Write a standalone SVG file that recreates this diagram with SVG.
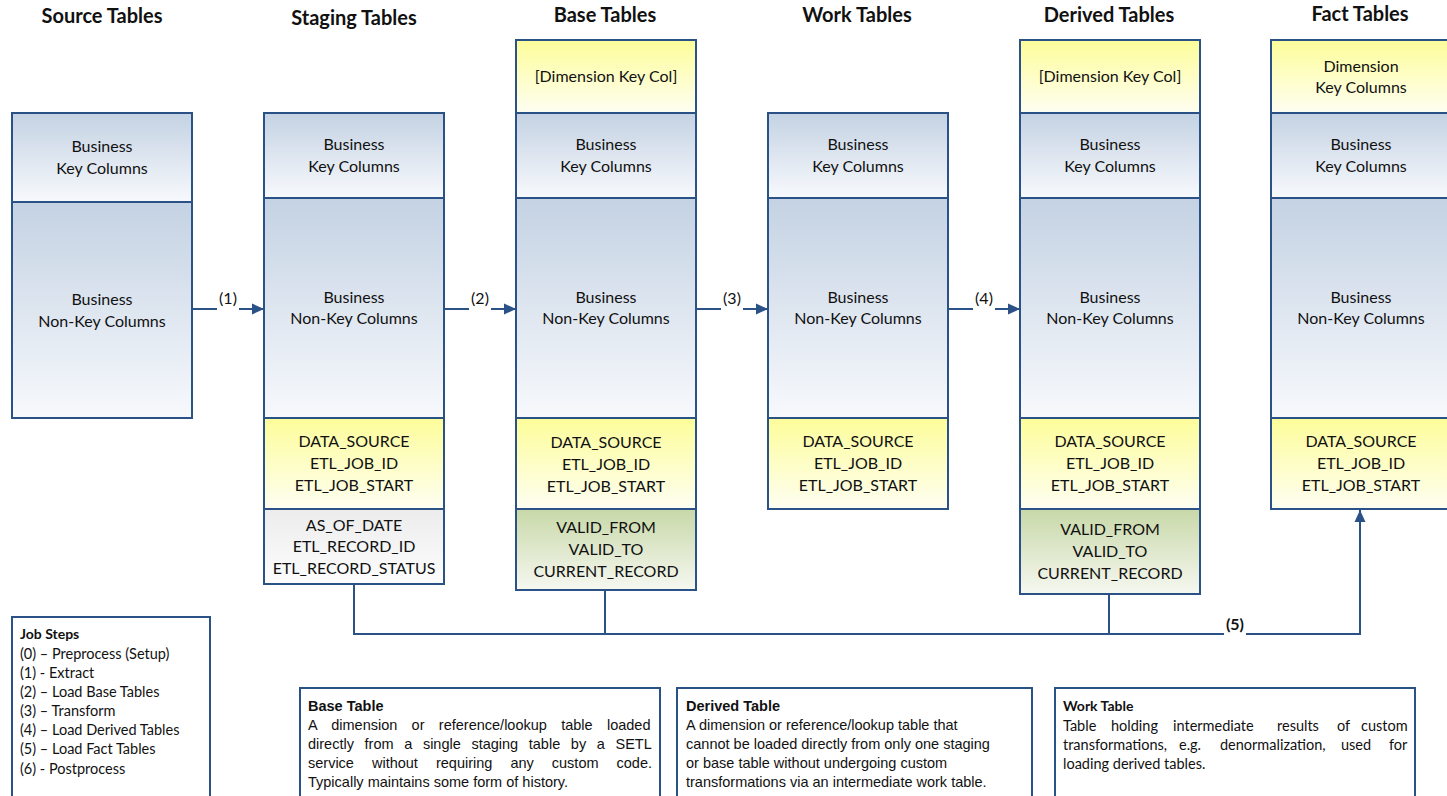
<svg xmlns="http://www.w3.org/2000/svg" width="1447" height="796" viewBox="0 0 1447 796">
<defs>
  <linearGradient id="gBlue" x1="0" y1="0" x2="0" y2="1">
    <stop offset="0" stop-color="#c4d2e3"/>
    <stop offset="1" stop-color="#f7f9fc"/>
  </linearGradient>
  <linearGradient id="gYellow" x1="0" y1="0" x2="0" y2="1">
    <stop offset="0" stop-color="#fdfd9a"/>
    <stop offset="1" stop-color="#fefef2"/>
  </linearGradient>
  <linearGradient id="gGray" x1="0" y1="0" x2="0" y2="1">
    <stop offset="0" stop-color="#ececec"/>
    <stop offset="1" stop-color="#fdfdfd"/>
  </linearGradient>
  <linearGradient id="gGreen" x1="0" y1="0" x2="0" y2="1">
    <stop offset="0" stop-color="#c8d8a8"/>
    <stop offset="1" stop-color="#f6f8f1"/>
  </linearGradient>
  <marker id="arrow" viewBox="0 0 12 12" refX="12" refY="6" markerWidth="12" markerHeight="12" orient="auto" markerUnits="userSpaceOnUse">
    <path d="M0,0.5 L12,6 L0,11.5 z" fill="#2a5287"/>
  </marker>
</defs>
<style>
  .cell { stroke: #2a5287; stroke-width: 2; }
  .blue { fill: url(#gBlue); }
  .yellow { fill: url(#gYellow); }
  .gray { fill: url(#gGray); }
  .green { fill: url(#gGreen); }
  .t { font-family: Lato, "Liberation Sans", sans-serif; font-size: 16px; fill: #111; text-anchor: middle; }
  .h { font-family: Lato, "Liberation Sans", sans-serif; font-size: 20px; font-weight: bold; fill: #111; text-anchor: middle; }
  .lbl { font-family: Lato, "Liberation Sans", sans-serif; font-size: 16px; fill: #111; text-anchor: middle; }
  .conn { stroke: #2a5287; stroke-width: 2; fill: none; }
  .box { fill: #fff; stroke: #2a5287; stroke-width: 2; }
  .note { font-family: "Liberation Sans", Arial, sans-serif; font-size: 14.5px; fill: #111; }
  .noteB { font-family: "Liberation Sans", Arial, sans-serif; font-size: 14.5px; font-weight: bold; fill: #111; }
  .jobs { font-family: Lato, "Liberation Sans", sans-serif; font-size: 14.5px; fill: #111; }
  .jobsB { font-family: Lato, "Liberation Sans", sans-serif; font-size: 14px; font-weight: bold; fill: #111; }
</style>

<!-- column headings -->
<g id="headings">
  <text class="h" x="102" y="23">Source Tables</text>
  <text class="h" x="354" y="25">Staging Tables</text>
  <text class="h" x="605" y="22">Base Tables</text>
  <text class="h" x="857" y="22">Work Tables</text>
  <text class="h" x="1109" y="22">Derived Tables</text>
  <text class="h" x="1360" y="21">Fact Tables</text>
</g>

<!-- source table -->
<g id="source">
  <rect class="cell blue" x="12" y="113" width="180" height="89"/>
  <rect class="cell blue" x="12" y="202" width="180" height="216"/>
  <text class="t" x="102" y="152">Business</text>
  <text class="t" x="102" y="174">Key Columns</text>
  <text class="t" x="102" y="305">Business</text>
  <text class="t" x="102" y="327">Non-Key Columns</text>
</g>

<!-- staging table -->
<g id="staging">
  <rect class="cell blue" x="264" y="113" width="180" height="85"/>
  <rect class="cell blue" x="264" y="198" width="180" height="220"/>
  <rect class="cell yellow" x="264" y="418" width="180" height="91"/>
  <rect class="cell gray" x="264" y="509" width="180" height="75"/>
  <text class="t" x="354" y="150">Business</text>
  <text class="t" x="354" y="172">Key Columns</text>
  <text class="t" x="354" y="303">Business</text>
  <text class="t" x="354" y="324">Non-Key Columns</text>
  <text class="t" x="354" y="447">DATA_SOURCE</text>
  <text class="t" x="354" y="469">ETL_JOB_ID</text>
  <text class="t" x="354" y="491">ETL_JOB_START</text>
  <text class="t" x="354" y="531">AS_OF_DATE</text>
  <text class="t" x="354" y="552">ETL_RECORD_ID</text>
  <text class="t" x="354" y="574">ETL_RECORD_STATUS</text>
</g>

<!-- base table -->
<g id="base">
  <rect class="cell yellow" x="516" y="40" width="180" height="73"/>
  <rect class="cell blue" x="516" y="113" width="180" height="85"/>
  <rect class="cell blue" x="516" y="198" width="180" height="220"/>
  <rect class="cell yellow" x="516" y="418" width="180" height="91"/>
  <rect class="cell green" x="516" y="509" width="180" height="81"/>
  <text class="t" x="606" y="82">[Dimension Key Col]</text>
  <text class="t" x="606" y="150">Business</text>
  <text class="t" x="606" y="172">Key Columns</text>
  <text class="t" x="606" y="303">Business</text>
  <text class="t" x="606" y="324">Non-Key Columns</text>
  <text class="t" x="606" y="448">DATA_SOURCE</text>
  <text class="t" x="606" y="470">ETL_JOB_ID</text>
  <text class="t" x="606" y="492">ETL_JOB_START</text>
  <text class="t" x="606" y="533">VALID_FROM</text>
  <text class="t" x="606" y="555">VALID_TO</text>
  <text class="t" x="606" y="577">CURRENT_RECORD</text>
</g>

<!-- work table -->
<g id="work">
  <rect class="cell blue" x="768" y="113" width="180" height="85"/>
  <rect class="cell blue" x="768" y="198" width="180" height="220"/>
  <rect class="cell yellow" x="768" y="418" width="180" height="91"/>
  <text class="t" x="858" y="150">Business</text>
  <text class="t" x="858" y="172">Key Columns</text>
  <text class="t" x="858" y="303">Business</text>
  <text class="t" x="858" y="324">Non-Key Columns</text>
  <text class="t" x="858" y="447">DATA_SOURCE</text>
  <text class="t" x="858" y="469">ETL_JOB_ID</text>
  <text class="t" x="858" y="491">ETL_JOB_START</text>
</g>

<!-- derived table -->
<g id="derived">
  <rect class="cell yellow" x="1020" y="40" width="180" height="73"/>
  <rect class="cell blue" x="1020" y="113" width="180" height="85"/>
  <rect class="cell blue" x="1020" y="198" width="180" height="220"/>
  <rect class="cell yellow" x="1020" y="418" width="180" height="91"/>
  <rect class="cell green" x="1020" y="509" width="180" height="85"/>
  <text class="t" x="1110" y="82">[Dimension Key Col]</text>
  <text class="t" x="1110" y="150">Business</text>
  <text class="t" x="1110" y="172">Key Columns</text>
  <text class="t" x="1110" y="303">Business</text>
  <text class="t" x="1110" y="324">Non-Key Columns</text>
  <text class="t" x="1110" y="447">DATA_SOURCE</text>
  <text class="t" x="1110" y="469">ETL_JOB_ID</text>
  <text class="t" x="1110" y="491">ETL_JOB_START</text>
  <text class="t" x="1110" y="535">VALID_FROM</text>
  <text class="t" x="1110" y="557">VALID_TO</text>
  <text class="t" x="1110" y="579">CURRENT_RECORD</text>
</g>

<!-- fact table -->
<g id="fact">
  <rect class="cell yellow" x="1271" y="40" width="180" height="73"/>
  <rect class="cell blue" x="1271" y="113" width="180" height="85"/>
  <rect class="cell blue" x="1271" y="198" width="180" height="220"/>
  <rect class="cell yellow" x="1271" y="418" width="180" height="91"/>
  <text class="t" x="1361" y="72">Dimension</text>
  <text class="t" x="1361" y="93">Key Columns</text>
  <text class="t" x="1361" y="150">Business</text>
  <text class="t" x="1361" y="172">Key Columns</text>
  <text class="t" x="1361" y="303">Business</text>
  <text class="t" x="1361" y="324">Non-Key Columns</text>
  <text class="t" x="1361" y="447">DATA_SOURCE</text>
  <text class="t" x="1361" y="469">ETL_JOB_ID</text>
  <text class="t" x="1361" y="491">ETL_JOB_START</text>
</g>

<!-- connectors -->
<g id="connectors">
  <path class="conn" d="M192,309 H217"/>
  <path class="conn" d="M239,309 H264" marker-end="url(#arrow)"/>
  <text class="lbl" x="228" y="304">(1)</text>

  <path class="conn" d="M444,309 H469"/>
  <path class="conn" d="M491,309 H516" marker-end="url(#arrow)"/>
  <text class="lbl" x="480" y="304">(2)</text>

  <path class="conn" d="M696,309 H721"/>
  <path class="conn" d="M743,309 H768" marker-end="url(#arrow)"/>
  <text class="lbl" x="732" y="304">(3)</text>

  <path class="conn" d="M948,309 H973"/>
  <path class="conn" d="M995,309 H1020" marker-end="url(#arrow)"/>
  <text class="lbl" x="984" y="304">(4)</text>

  <path class="conn" d="M354,584 V634 H1224"/>
  <path class="conn" d="M605,590 V634"/>
  <path class="conn" d="M1109,594 V634"/>
  <path class="conn" d="M1246,634 H1360 V510" marker-end="url(#arrow)"/>
  <text class="lbl" x="1235" y="630" font-weight="bold">(5)</text>
</g>

<!-- job steps legend -->
<g id="job-steps">
  <rect class="box" x="12" y="617" width="198" height="185"/>
  <text class="jobsB" x="20" y="639">Job Steps</text>
  <text class="jobs" x="20" y="659">(0) – Preprocess (Setup)</text>
  <text class="jobs" x="20" y="678">(1) - Extract</text>
  <text class="jobs" x="20" y="697">(2) – Load Base Tables</text>
  <text class="jobs" x="20" y="716">(3) – Transform</text>
  <text class="jobs" x="20" y="735">(4) – Load Derived Tables</text>
  <text class="jobs" x="20" y="754">(5) – Load Fact Tables</text>
  <text class="jobs" x="20" y="774">(6) - Postprocess</text>
</g>

<!-- base table note -->
<g id="note-base">
  <rect class="box" x="300" y="688" width="360" height="114"/>
  <text class="noteB" x="308" y="711">Base Table</text>
  <text class="note" x="308" y="730" word-spacing="10.3">A dimension or reference/lookup table loaded</text>
  <text class="note" x="308" y="749" word-spacing="6.6">directly from a single staging table by a SETL</text>
  <text class="note" x="308" y="768" word-spacing="14">service without requiring any custom code.</text>
  <text class="note" x="308" y="787">Typically maintains some form of history.</text>
</g>

<!-- derived table note -->
<g id="note-derived">
  <rect class="box" x="677" y="688" width="355" height="114"/>
  <text class="noteB" x="686" y="711">Derived Table</text>
  <text class="note" x="686" y="730">A dimension or reference/lookup table that</text>
  <text class="note" x="686" y="749">cannot be loaded directly from only one staging</text>
  <text class="note" x="686" y="768">or base table without undergoing custom</text>
  <text class="note" x="686" y="787">transformations via an intermediate work table.</text>
</g>

<!-- work table note (justified lines set word by word) -->
<g id="note-work">
  <rect class="box" x="1055" y="688" width="360" height="114"/>
  <text class="jobsB" x="1063" y="711">Work Table</text>
  <text class="jobs" y="731"><tspan x="1063">Table</tspan> <tspan x="1111">holding</tspan> <tspan x="1173">intermediate</tspan>  <tspan x="1277">results</tspan> <tspan x="1337">of</tspan> <tspan x="1361">custom</tspan></text>
  <text class="jobs" y="750"><tspan x="1063">transformations,</tspan> <tspan x="1179">e.g.</tspan> <tspan x="1220">denormalization,</tspan> <tspan x="1341">used</tspan> <tspan x="1389">for</tspan></text>
  <text class="jobs" x="1063" y="769">loading derived tables.</text>
</g>
</svg>
